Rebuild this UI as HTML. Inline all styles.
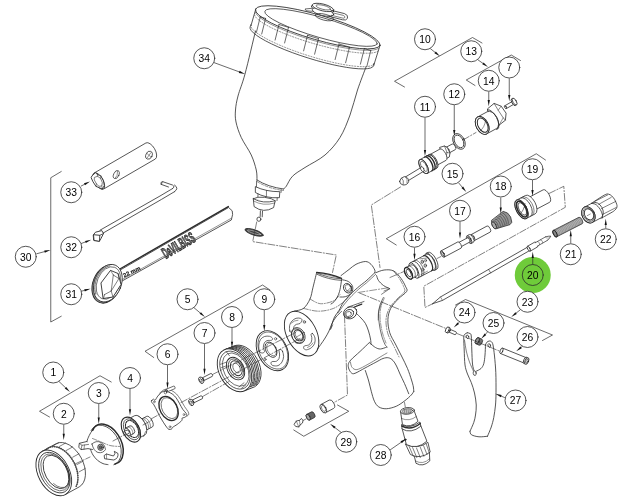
<!DOCTYPE html>
<html><head><meta charset="utf-8"><style>
html,body{margin:0;padding:0;background:#fff;}
svg{display:block}
svg text{-webkit-font-smoothing:antialiased}
.t{font-family:"Liberation Sans",sans-serif;font-size:10.3px;fill:#000;stroke:none}
</style></head><body>
<svg style="will-change:transform" width="640" height="504" viewBox="0 0 640 504" fill="none" stroke="#2b2b2b" stroke-linecap="round" stroke-linejoin="round">
<rect x="0" y="0" width="640" height="504" fill="#fff" stroke="none"/>
<path d="M255.5 31 C253.75 38.17 247.92 63.17 245 74 C242.08 84.83 239.58 90 238 96 C236.42 102 235.83 105.67 235.5 110 C235.17 114.33 235.04 117.42 236 122 C236.96 126.58 238.71 132 241.25 137.5 C243.79 143 248.75 149.58 251.25 155 C253.75 160.42 255.29 165.83 256.25 170 C257.21 174.17 256.88 178.33 257 180" stroke-width="0.8" fill="none" />
<path d="M366 67 C364.58 70.83 360.17 82 357.5 90 C354.83 98 352.92 107.08 350 115 C347.08 122.92 344.17 130.83 340 137.5 C335.83 144.17 330.83 150 325 155 C319.17 160 310.42 163.96 305 167.5 C299.58 171.04 295.62 173.12 292.5 176.25 C289.38 179.38 287.75 184.12 286.25 186.25 C284.75 188.38 283.96 188.54 283.5 189" stroke-width="0.8" fill="none" />
<path d="M257 180 Q268 187 283.5 189" stroke-width="0.8" fill="none" />
<path d="M257 181.5 Q268 188.5 283.5 190.5" stroke-width="0.5" fill="none" stroke-dasharray="3 1.5"/>
<path d="M256.6 181 L256.4 188 M281.3 189.6 L281 192.5" stroke-width="0.7" fill="none" />
<path d="M255.7 186.8 Q266 191.7 279.8 191.7 L279.4 197.7 Q266 198.6 255.7 192.7 Z" stroke-width="0.8" fill="#fff" />
<line x1="266.5" y1="190.4" x2="266.4" y2="196.6" stroke-width="0.6" />
<path d="M258 194.2 L257.8 199 M277.2 198 L277 200.6" stroke-width="0.7" fill="none" />
<path d="M253.3 198.7 L254.1 206.6 Q263.5 213.6 273.6 207.6 L275.2 200.7 Q263 204.2 253.3 198.7 Z" stroke-width="0.8" fill="#fff" />
<path d="M253.3 198.7 Q257 196.4 264.5 197.3 Q272.5 198.3 275.2 200.7" stroke-width="0.8" fill="#fff" />
<path d="M253.6 201 Q263 206.5 274.8 203" stroke-width="0.5" fill="none" />
<line x1="260.4" y1="210.8" x2="260.2" y2="216.5" stroke-width="0.8" />
<line x1="262.5" y1="211.2" x2="262.2" y2="216.8" stroke-width="0.8" />
<ellipse cx="258.9" cy="219.2" rx="2" ry="2.1" transform="rotate(0 258.9 219.2)" stroke-width="0.8" fill="none" />
<ellipse cx="254.1" cy="232.4" rx="9.6" ry="2.7" transform="rotate(18 254.1 232.4)" stroke-width="0.8" fill="#444" />
<ellipse cx="254.1" cy="232.4" rx="7" ry="1.2" transform="rotate(18 254.1 232.4)" stroke-width="0.5" fill="none" stroke="#ddd"/>
<ellipse cx="317.8" cy="27.4" rx="64.8" ry="12.4" transform="rotate(16.2 317.8 27.4)" stroke-width="0.8" fill="none" />
<path d="M373.69 63.87 L373.73 65.58 L372.72 66.96 L370.67 67.98 L367.61 68.63 L363.6 68.9 L358.7 68.78 L353 68.27 L346.6 67.38 L339.61 66.14 L332.14 64.55 L324.32 62.64 L316.29 60.46 L308.19 58.03 L300.15 55.4 L292.31 52.61 L284.81 49.72 L277.77 46.76 L271.32 43.79 L265.55 40.86 L260.59 38.03 L256.5 35.33 L253.35 32.83 L251.21 30.54 L250.11 28.53 L250.07 26.82 L251.08 25.44" stroke-width="0.8" fill="none" />
<path d="M374.33 63.38 L373.32 64.76 L371.27 65.78 L368.21 66.43 L364.2 66.7 L359.3 66.58 L353.6 66.07 L347.2 65.18 L340.21 63.94 L332.74 62.35 L324.92 60.44 L316.89 58.26 L308.79 55.83 L300.75 53.2 L292.91 50.41 L285.41 47.52 L278.37 44.56 L271.92 41.59 L266.15 38.66 L261.19 35.83 L257.1 33.13 L253.95 30.63 L251.81 28.34 L250.71 26.33 L250.67 24.62" stroke-width="0.5" fill="none" stroke-dasharray="1.2 1.6"/>
<line x1="255.91" y1="8.61" x2="251.02" y2="25.49" stroke-width="0.8" />
<line x1="380.12" y1="44.99" x2="373.83" y2="65.09" stroke-width="0.8" />
<ellipse cx="321" cy="27.6" rx="58.5" ry="10" transform="rotate(16.2 321 27.6)" stroke-width="0.7" fill="none" />
<path d="M378.74 48.18 L376.71 49.24 L373.67 49.96 L369.66 50.31 L364.76 50.29 L359.05 49.9 L352.64 49.15 L345.62 48.05 L338.12 46.62 L330.26 44.88 L322.19 42.87 L314.04 40.61 L305.95 38.15 L298.05 35.52 L290.49 32.78 L283.39 29.97 L276.87 27.14 L271.05 24.34 L266.03 21.61 L261.88 19 L258.69 16.55 L256.5 14.32 L255.35 12.33" stroke-width="0.5" fill="none" />
<path d="M378.04 51.08 L376.01 52.14 L372.97 52.86 L368.96 53.21 L364.06 53.19 L358.35 52.8 L351.94 52.05 L344.92 50.95 L337.42 49.52 L329.56 47.78 L321.49 45.77 L313.34 43.51 L305.25 41.05 L297.35 38.42 L289.79 35.68 L282.69 32.87 L276.17 30.04 L270.35 27.24 L265.33 24.51 L261.18 21.9 L257.99 19.45 L255.8 17.22 L254.65 15.23" stroke-width="0.5" fill="none" stroke-dasharray="1.2 1.6"/>
<path d="M260.3 16.8 L256.4 32.4" stroke-width="0.7" fill="none" />
<path d="M265.6 18.39 L261.7 33.99" stroke-width="0.7" fill="none" />
<path d="M260.3 16.8 L265.6 18.39" stroke-width="0.7" fill="none" />
<path d="M279 24.5 L275.1 40.1" stroke-width="0.7" fill="none" />
<path d="M288.5 27.35 L284.6 42.95" stroke-width="0.7" fill="none" />
<path d="M279 24.5 L288.5 27.35" stroke-width="0.7" fill="none" />
<path d="M307.5 35.3 L303.6 50.9" stroke-width="0.7" fill="none" />
<path d="M318.5 38.6 L314.6 54.2" stroke-width="0.7" fill="none" />
<path d="M307.5 35.3 L318.5 38.6" stroke-width="0.7" fill="none" />
<path d="M339 44 L335.1 59.6" stroke-width="0.7" fill="none" />
<path d="M349.5 47.15 L345.6 62.75" stroke-width="0.7" fill="none" />
<path d="M339 44 L349.5 47.15" stroke-width="0.7" fill="none" />
<path d="M364.3 48.6 L360.4 64.2" stroke-width="0.7" fill="none" />
<path d="M370.8 50.55 L366.9 66.15" stroke-width="0.7" fill="none" />
<path d="M364.3 48.6 L370.8 50.55" stroke-width="0.7" fill="none" />
<ellipse cx="322.5" cy="8.7" rx="11.5" ry="3.6" transform="rotate(14 322.5 8.7)" stroke-width="0.8" fill="none" />
<ellipse cx="323" cy="12" rx="11" ry="3.6" transform="rotate(14 323 12)" stroke-width="0.8" fill="#fff" />
<ellipse cx="323" cy="7.5" rx="11" ry="3.4" transform="rotate(14 323 7.5)" stroke-width="0.8" fill="#fff" />
<ellipse cx="323.3" cy="7.4" rx="7.5" ry="2" transform="rotate(14 323.3 7.4)" stroke-width="0.6" fill="none" />
<path d="M331 10.3 L344.5 13.6 Q348.5 15 347.5 18.3 Q346.3 20.8 342.5 19.8 L329 16.3" stroke-width="0.8" fill="none" />
<path d="M333 12.9 L343.3 15.4 Q345.3 16.2 344.8 17.5 Q344 18.6 342.3 18 L331.5 15.3" stroke-width="0.6" fill="none" />
<path d="M312 8.3 L305 9 L306.3 10.8 L312.5 11.3" stroke-width="0.7" fill="none" />
<ellipse cx="324.5" cy="17.2" rx="9.5" ry="3" transform="rotate(14 324.5 17.2)" stroke-width="0.7" fill="none" />
<path d="M61.25 171.5 L50.75 177.75 L50.75 322 L61.25 316.25" stroke-width="0.7" fill="none" />
<path d="M103.97 188.84 L155.27 159.04 A4.65 9.3 -30.15 0 0 145.93 142.96 L94.63 172.76" stroke-width="0.8" fill="#fff" />
<ellipse cx="98.8" cy="181" rx="4.2" ry="9.3" transform="rotate(-30 98.8 181)" stroke-width="0.8" fill="#fff" />
<path d="M92.3 175.5 L95.5 172.7 L97.3 174.5 L100.8 175.8 L103.5 181 L104.3 185.6 L102.3 189 L99 187.6 L96 186.4 L93 181.8 L91.3 178 Z" stroke-width="0.9" fill="#fff" />
<path d="M94.7 177.3 L97.5 176.3 L100.5 178.3 L102.3 182.5 L101.8 186 L99 186.3 L96.5 184 L94.5 180.3 Z" stroke-width="0.6" fill="none" />
<line x1="97.3" y1="174.5" x2="97.5" y2="176.3" stroke-width="0.5" />
<line x1="100.8" y1="175.8" x2="100.5" y2="178.3" stroke-width="0.5" />
<line x1="102.3" y1="189" x2="101.8" y2="186" stroke-width="0.5" />
<line x1="96" y1="186.4" x2="96.5" y2="184" stroke-width="0.5" />
<ellipse cx="116.3" cy="174.6" rx="2.6" ry="4.3" transform="rotate(25 116.3 174.6)" stroke-width="0.7" fill="none" />
<path d="M115.3 178 Q117.8 176.3 117.6 171.5" stroke-width="0.5" fill="none" />
<ellipse cx="149" cy="155.2" rx="3.1" ry="4.2" transform="rotate(25 149 155.2)" stroke-width="0.7" fill="none" />
<line x1="146.8" y1="153.2" x2="151" y2="157.2" stroke-width="0.5" />
<line x1="147.2" y1="157.8" x2="150.8" y2="152.8" stroke-width="0.5" />
<path d="M100 230.2 L160 196 L172.5 188.6" stroke-width="0.8" fill="none" />
<path d="M101.5 234 L161.5 199.4 L174.5 191.7" stroke-width="0.8" fill="none" />
<path d="M172.5 188.6 Q175.5 186.8 172.5 185 L162.5 181.6 Q160.3 182 161 184.3 L168.5 187 " stroke-width="0.8" fill="none" />
<path d="M174.5 191.7 Q179.5 188.3 174.5 185" stroke-width="0.8" fill="none" />
<line x1="161.2" y1="184.4" x2="162.7" y2="181.7" stroke-width="0.6" />
<path d="M93.5 234.7 L95.5 232.2 L101.8 230.6 L103.5 233.5 L101 238.5 L99.5 241 L94 240.2 Z" stroke-width="0.9" fill="#fff" />
<path d="M94 240.2 L93.5 234.7 L99.8 235.3 L99.5 241 Z" stroke-width="0.9" fill="#fff" />
<line x1="99.8" y1="235.3" x2="103.5" y2="233.5" stroke-width="0.8" />
<path d="M119 270.7 L228.6 207.5 L232.2 210.8 L232.6 214.5 L231.3 220 L120.5 281.9 Z" stroke-width="0.8" fill="#fff" />
<line x1="119" y1="269.5" x2="228.3" y2="206.6" stroke-width="1.4" />
<line x1="121.5" y1="279.9" x2="231" y2="218.4" stroke-width="0.5" />
<g transform="translate(178.3,245.3) rotate(-30.3)"><text x="0" y="5.4" text-anchor="middle" textLength="35.5" lengthAdjust="spacingAndGlyphs" style="font-family:'Liberation Sans',sans-serif;font-size:15.5px;font-weight:bold;fill:#777;stroke:#222;stroke-width:0.85;">DeVILBISS</text></g>
<ellipse cx="106.7" cy="284" rx="13.8" ry="19.9" transform="rotate(22 106.7 284)" stroke-width="0.9" fill="#8a8a8a" />
<ellipse cx="107.9" cy="283.2" rx="13.4" ry="19.5" transform="rotate(22 107.9 283.2)" stroke-width="0.8" fill="#fff" />
<ellipse cx="108.4" cy="283" rx="11.3" ry="16.9" transform="rotate(22 108.4 283)" stroke-width="0.6" fill="none" />
<path d="M95.88 294.03 L95.42 292.61 L95.09 291.1 L94.88 289.51 L94.81 287.85 L94.88 286.15 L95.07 284.41 L95.4 282.66 L95.85 280.92 L96.42 279.2 L97.11 277.52 L97.91 275.89 L98.82 274.33 L99.81 272.87 L100.89 271.5 L102.04 270.25 L103.25 269.13 L104.51 268.15 L105.81 267.32 L107.12 266.64 L108.45 266.13 L109.78 265.79" stroke-width="1.2" fill="none" stroke="#777" stroke-dasharray="0.8 0.9"/>
<path d="M101.2 282.7 L110.5 270.4 L118.1 273.5 L121 284.5 L113 297 L103.5 298.5 Z" stroke-width="0.9" fill="#fff" />
<path d="M113.3 275 L118.9 278.6 L111.2 291 L104.5 294.6" stroke-width="0.6" fill="none" />
<line x1="113.3" y1="275" x2="111.2" y2="291" stroke-width="0.6" />
<line x1="113" y1="297" x2="111.2" y2="291" stroke-width="0.6" />
<line x1="103.5" y1="298.5" x2="104.5" y2="294.6" stroke-width="0.6" />
<line x1="118.1" y1="273.5" x2="118.9" y2="278.6" stroke-width="0.5" />
<line x1="110.5" y1="270.4" x2="113.3" y2="275" stroke-width="0.5" />
<g transform="translate(131.8,271.7) rotate(-25)"><text x="0" y="2" text-anchor="middle" style="font-family:'Liberation Sans',sans-serif;font-size:5.8px;font-weight:bold;fill:#111;stroke:#111;stroke-width:0.15">22 mm</text></g>
<path d="M294.5 311 C296 310.57 300.92 310.4 303.5 308.4 C306.08 306.4 308.43 302.44 310 299 C311.57 295.56 311.8 292.12 312.9 287.75 C314 283.38 315.98 275.25 316.6 272.75" stroke-width="0.8" fill="none" />
<path d="M316.6 272.4 Q330 273.6 341.6 278.3" stroke-width="1.3" fill="none" />
<path d="M316.6 272.9 Q328 278 341.6 278.9" stroke-width="0.7" fill="none" />
<path d="M317 274.3 Q328 279.6 341.4 280.4" stroke-width="0.7" fill="none" />
<path d="M319.5 273.3 Q330 275.2 339.5 278" stroke-width="0.5" fill="none" />
<path d="M341.5 280.3 C341.25 281.85 340.6 287.02 340 289.6 C339.4 292.18 338.83 293.83 337.9 295.8 C336.97 297.77 335.55 300.03 334.4 301.4 C333.25 302.77 331.57 303.57 331 304" stroke-width="0.8" fill="none" />
<path d="M341.5 279.6 C342.63 279.92 346.45 280.35 348.3 281.5 C350.15 282.65 352.07 284.58 352.6 286.5 C353.13 288.42 352.67 291.32 351.5 293 C350.33 294.68 347.52 295.93 345.6 296.6 C343.68 297.27 340.93 296.93 340 297" stroke-width="0.8" fill="none" />
<ellipse cx="347.6" cy="288.2" rx="3.9" ry="5" transform="rotate(-28 347.6 288.2)" stroke-width="0.8" fill="none" />
<ellipse cx="348.1" cy="287.9" rx="2.7" ry="3.6" transform="rotate(-28 348.1 287.9)" stroke-width="0.6" fill="none" />
<path d="M345.6 291.5 Q348 291.5 349.8 288.5" stroke-width="0.5" fill="none" />
<path d="M310 299 C311.73 299.78 316.48 303.38 320.4 303.7 C324.32 304.02 330.23 302.43 333.5 300.9 C336.77 299.37 338.92 295.57 340 294.5" stroke-width="0.55" fill="none" stroke-dasharray="5 1.5 1 1.5"/>
<path d="M303.5 308.4 C306 308.87 313.5 311.2 318.5 311.2 C323.5 311.2 329.12 310.12 333.5 308.4 C337.88 306.68 342 303.13 344.75 300.9 C347.5 298.67 349.12 295.98 350 295" stroke-width="0.55" fill="none" stroke-dasharray="5 1.5 1 1.5"/>
<path d="M341 275.6 C342.33 274.58 346.5 271.38 349 269.5 C351.5 267.62 353.27 265.63 356 264.3 C358.73 262.97 362.9 261.5 365.4 261.5 C367.9 261.5 369.44 262.88 371 264.3 C372.56 265.72 374.12 268.59 374.75 270 C375.38 271.41 374.75 272.29 374.75 272.75" stroke-width="0.8" fill="none" />
<path d="M374.75 272.75 C373.29 274.12 368.5 278.81 366 281 C363.5 283.19 362.35 283.68 359.75 285.9 C357.15 288.12 353.19 291.45 350.4 294.3 C347.61 297.15 344.88 300.34 343 303 C341.12 305.66 340.52 307.92 339.1 310.25 C337.68 312.58 335.68 314.71 334.5 317 C333.32 319.29 332.63 322 332 324 C331.37 326 330.92 328.17 330.7 329" stroke-width="0.8" fill="none" />
<path d="M375.7 274.3 C374.17 275.72 369.03 280.58 366.5 282.8 C363.97 285.02 362.92 285.48 360.5 287.6 C358.08 289.72 354.67 292.77 352 295.5 C349.33 298.23 346.83 301.08 344.5 304 C342.17 306.92 339.08 311.5 338 313" stroke-width="0.6" fill="none" />
<path d="M375.7 272.75 C377.1 272.29 381.13 270.31 384.1 270 C387.07 269.69 390.68 269.5 393.5 270.9 C396.32 272.3 398.97 275.75 401 278.4 C403.03 281.05 404.77 284.62 405.7 286.8 C406.63 288.98 407.85 289.47 406.6 291.5 C405.35 293.53 400.85 296.18 398.2 299 C395.55 301.82 392.42 304.97 390.7 308.4 C388.98 311.83 388.06 315.54 387.9 319.6 C387.74 323.66 388.5 328.68 389.75 332.75 C391 336.82 393.44 340.12 395.4 344 C397.36 347.88 399.48 351.92 401.5 356 C403.52 360.08 405.83 364.5 407.5 368.5 C409.17 372.5 410.52 376.92 411.5 380 C412.48 383.08 413.02 385.08 413.4 387 C413.77 388.92 413.69 390.75 413.75 391.5" stroke-width="0.8" fill="none" />
<path d="M393.5 270.9 C394.58 272.33 398.25 276.73 400 279.5 C401.75 282.27 403.28 285.42 404 287.5 C404.72 289.58 405.55 290 404.3 292 C403.05 294 399.05 296.67 396.5 299.5 C393.95 302.33 390.75 305.58 389 309 C387.25 312.42 386.2 315.92 386 320 C385.8 324.08 386.58 329.33 387.8 333.5 C389.02 337.67 391.43 341.08 393.3 345 C395.17 348.92 398.05 355 399 357" stroke-width="0.55" fill="none" stroke-dasharray="6 1.5 1 1.5"/>
<path d="M376.6 275.6 C376.92 276.42 377.35 278.85 378.5 280.5 C379.65 282.15 381.62 284.13 383.5 285.5 C385.38 286.87 388.71 288.17 389.75 288.7" stroke-width="0.8" fill="none" />
<path d="M384 291 L389.75 288.7 L381.5 294.3" stroke-width="0.6" fill="none" />
<line x1="358" y1="292.5" x2="389.5" y2="287.6" stroke-width="0.5" stroke-dasharray="7 1.8 1.2 1.8"/>
<path d="M383.4 297.5 C382.83 298.75 380.82 302.25 380 305 C379.18 307.75 378.62 310.83 378.5 314 C378.38 317.17 378.8 320.5 379.3 324 C379.8 327.5 380.55 331.58 381.5 335 C382.45 338.42 384.03 342.5 385 344.5 C385.97 346.5 386.92 346.58 387.3 347" stroke-width="0.7" fill="none" />
<path d="M384.4 298 C383.88 299.25 382.03 302.83 381.3 305.5 C380.57 308.17 380.1 310.92 380 314 C379.9 317.08 380.23 320.67 380.7 324 C381.17 327.33 381.92 330.83 382.8 334 C383.68 337.17 385.47 341.5 386 343" stroke-width="0.5" fill="none" stroke-dasharray="5 1.3 1 1.3"/>
<path d="M382.2 302 C381.62 303.5 379.37 308 378.7 311 C378.03 314 378.28 318.5 378.2 320" stroke-width="0.5" fill="none" />
<ellipse cx="301.6" cy="333.6" rx="14.8" ry="24" transform="rotate(-28 301.6 333.6)" stroke-width="0.9" fill="#fff" />
<path d="M289.8 331 C289.52 329.83 289.23 327.17 289.6 325.5 C289.97 323.83 290.93 322.2 292 321 C293.07 319.8 294.62 318.75 296 318.3 C297.38 317.85 299.3 318.02 300.3 318.3 C301.3 318.58 302.05 319.13 302 320 C301.95 320.87 300.92 322.78 300 323.5 C299.08 324.22 297.5 323.8 296.5 324.3 C295.5 324.8 294.58 325.3 294 326.5 C293.42 327.7 293.45 330.5 293 331.5 C292.55 332.5 291.83 332.58 291.3 332.5 C290.77 332.42 290.08 332.17 289.8 331 Z" stroke-width="0.7" fill="none" />
<path d="M312.6 333.5 C313.27 334.08 314.67 336.33 315 338 C315.33 339.67 315.22 341.87 314.6 343.5 C313.98 345.13 312.65 346.75 311.3 347.8 C309.95 348.85 307.75 349.68 306.5 349.8 C305.25 349.92 304.17 349.13 303.8 348.5 C303.43 347.87 303.52 346.58 304.3 346 C305.08 345.42 307.33 345.67 308.5 345 C309.67 344.33 310.75 343.25 311.3 342 C311.85 340.75 311.85 338.75 311.8 337.5 C311.75 336.25 310.87 335.17 311 334.5 C311.13 333.83 311.93 332.92 312.6 333.5 Z" stroke-width="0.7" fill="none" />
<path d="M291.5 323 Q294 320.3 298 320.2" stroke-width="0.5" fill="none" />
<path d="M313 343 Q311 346.3 307.5 347.5" stroke-width="0.5" fill="none" />
<ellipse cx="304.4" cy="321.9" rx="1.2" ry="1.3" transform="rotate(0 304.4 321.9)" stroke-width="0.6" fill="none" />
<line x1="303.6" y1="321.3" x2="305.2" y2="322.6" stroke-width="0.4" />
<ellipse cx="298.3" cy="335.5" rx="6.4" ry="8.3" transform="rotate(-28 298.3 335.5)" stroke-width="0.8" fill="#fff" />
<ellipse cx="297.6" cy="335.9" rx="5.6" ry="7.5" transform="rotate(-28 297.6 335.9)" stroke-width="0.6" fill="none" />
<ellipse cx="298.5" cy="335.3" rx="4.3" ry="5.9" transform="rotate(-28 298.5 335.3)" stroke-width="0.9" fill="none" />
<ellipse cx="299" cy="335" rx="3.4" ry="4.8" transform="rotate(-28 299 335)" stroke-width="0.5" fill="none" />
<line x1="296.3" y1="337" x2="300.8" y2="334.6" stroke-width="0.5" />
<path d="M294.3 341.5 Q295.6 344 297.6 343.3" stroke-width="0.6" fill="none" />
<path d="M317.5 349 C318.67 347.33 322.58 342 324.5 339 C326.42 336 327.75 333.58 329 331 C330.25 328.42 330.83 325.83 332 323.5 C333.17 321.17 334.42 319 336 317 C337.58 315 340.58 312.42 341.5 311.5" stroke-width="0.8" fill="none" />
<path d="M330.2 329.5 C330.63 328.75 332.37 325.75 332.8 325" stroke-width="0.6" fill="none" />
<ellipse cx="350.2" cy="312.8" rx="6.9" ry="5.8" transform="rotate(-28 350.2 312.8)" stroke-width="0.8" fill="#fff" />
<ellipse cx="349.2" cy="313.5" rx="4.6" ry="3.9" transform="rotate(-28 349.2 313.5)" stroke-width="0.8" fill="none" />
<ellipse cx="348.6" cy="314" rx="2.8" ry="2.4" transform="rotate(-28 348.6 314)" stroke-width="0.6" fill="none" />
<line x1="347.5" y1="307.3" x2="364" y2="301.5" stroke-width="0.7" />
<line x1="354.5" y1="307" x2="362" y2="304" stroke-width="1.3" stroke-dasharray="1.2 1"/>
<path d="M356.5 313.5 C357.25 314.25 359.52 316.35 361 318 C362.48 319.65 364.15 321.23 365.4 323.4 C366.65 325.57 367.65 328.4 368.5 331 C369.35 333.6 370.08 336.83 370.5 339 C370.92 341.17 370.92 343.17 371 344" stroke-width="0.8" fill="none" />
<path d="M371 344 C371.75 344.58 373.95 346.67 375.5 347.5 C377.05 348.33 378.47 349.05 380.3 349 C382.13 348.95 385.47 347.5 386.5 347.2" stroke-width="0.8" fill="none" />
<path d="M369.4 342.5 C367.83 344 363.1 348.58 360 351.5 C356.9 354.42 352.75 357.83 350.8 360 C348.85 362.17 348.62 363 348.3 364.5 C347.98 366 348.37 367.58 348.9 369 C349.43 370.42 350.48 372.28 351.5 373 C352.52 373.72 352.75 374.13 355 373.3 C357.25 372.47 361.52 369.85 365 368 C368.48 366.15 372.9 363.78 375.9 362.2 C378.9 360.62 380.9 359.23 383 358.5 C385.1 357.77 386.83 357.47 388.5 357.8 C390.17 358.13 391.67 359.13 393 360.5 C394.33 361.87 395.33 363.75 396.5 366 C397.67 368.25 398.67 371.08 400 374 C401.33 376.92 403.04 380.21 404.5 383.5 C405.96 386.79 408.04 392.04 408.75 393.75" stroke-width="0.8" fill="none" />
<path d="M350.5 362 C350.67 362.75 350.75 365.25 351.5 366.5 C352.25 367.75 353.58 369.17 355 369.5 C356.42 369.83 357.17 369.75 360 368.5 C362.83 367.25 368.5 364 372 362 C375.5 360 378.5 358 381 356.5 C383.5 355 386 353.58 387 353" stroke-width="0.55" fill="none" />
<path d="M365.3 370.5 C365.87 372.25 367.71 377.54 368.7 381 C369.69 384.46 370.3 387.88 371.25 391.25 C372.2 394.62 373.15 398.64 374.4 401.25 C375.65 403.86 376.77 405.65 378.75 406.9 C380.73 408.15 383.33 408.86 386.25 408.75 C389.17 408.64 393.12 407.61 396.25 406.25 C399.38 404.89 402.5 402.48 405 400.6 C407.5 398.73 409.79 396.52 411.25 395 C412.71 393.48 413.33 392.08 413.75 391.5" stroke-width="0.8" fill="none" />
<line x1="371.5" y1="344.5" x2="369.5" y2="342.8" stroke-width="0.6" />
<path d="M467.3 332.8 C466.83 333.08 465.09 333.63 464.5 334.5 C463.91 335.37 463.8 335.42 463.75 338 C463.7 340.58 463.99 345.5 464.2 350 C464.41 354.5 464.45 361 465 365 C465.55 369 466.46 371.08 467.5 374 C468.54 376.92 470.08 379.33 471.25 382.5 C472.42 385.67 473.67 389.25 474.5 393 C475.33 396.75 476.08 401.33 476.25 405 C476.42 408.67 475.92 412.08 475.5 415 C475.08 417.92 474.67 419.79 473.75 422.5 C472.83 425.21 470.62 429.79 470 431.25" stroke-width="0.8" fill="none" />
<path d="M470 431.25 C470.25 431.84 470 433.88 471.5 434.8 C473 435.73 476.33 436.56 479 436.8 C481.67 437.04 486.08 436.34 487.5 436.25" stroke-width="0.8" fill="none" />
<path d="M487.5 436.25 C488.12 434.71 490.21 430.12 491.25 427 C492.29 423.88 493.04 421.17 493.75 417.5 C494.46 413.83 495.12 409.17 495.5 405 C495.88 400.83 495.95 397.92 496 392.5 C496.05 387.08 496.05 378.58 495.8 372.5 C495.55 366.42 494.97 360.58 494.5 356 C494.03 351.42 493.5 347.37 493 345 C492.5 342.63 492.12 342.47 491.5 341.8 C490.88 341.13 490.08 340.92 489.3 341 C488.52 341.08 487.43 341.63 486.8 342.3 C486.17 342.97 485.72 344.55 485.5 345" stroke-width="0.8" fill="none" />
<path d="M467.3 332.8 C467.75 332.92 469.34 332.97 470 333.5 C470.66 334.03 470.95 333.25 471.25 336 C471.55 338.75 471.59 345.33 471.8 350 C472.01 354.67 472.13 360.58 472.5 364 C472.87 367.42 473.75 369.42 474 370.5" stroke-width="0.8" fill="none" />
<path d="M485.5 345 C485.42 346.67 485.29 351.88 485 355 C484.71 358.12 484.42 361.5 483.75 363.75 C483.08 366 482.29 367.24 481 368.5 C479.71 369.76 476.83 370.83 476 371.3" stroke-width="0.8" fill="none" />
<ellipse cx="474.7" cy="373.2" rx="1.5" ry="2.3" transform="rotate(-10 474.7 373.2)" stroke-width="0.7" fill="none" />
<path d="M464.5 340 C464.83 342 465.67 348.33 466.5 352 C467.33 355.67 468.37 358.87 469.5 362 C470.63 365.13 472.67 369.33 473.3 370.8" stroke-width="0.6" fill="none" />
<ellipse cx="467.5" cy="336.8" rx="1.2" ry="1.9" transform="rotate(-20 467.5 336.8)" stroke-width="0.7" fill="none" />
<ellipse cx="489.3" cy="345.5" rx="1.2" ry="1.9" transform="rotate(-20 489.3 345.5)" stroke-width="0.7" fill="none" />
<path d="M448.7 331.98 L454.9 334.68 A0.75 1.5 23.53 0 0 456.1 331.92 L449.9 329.22" stroke-width="0.8" fill="#fff" />
<ellipse cx="449.3" cy="330.6" rx="0.75" ry="1.5" transform="rotate(23.53 449.3 330.6)" stroke-width="0.8" fill="#fff" />
<ellipse cx="448.3" cy="330.2" rx="1.6" ry="3.1" transform="rotate(24 448.3 330.2)" stroke-width="0.8" fill="#fff" />
<ellipse cx="447.3" cy="329.8" rx="1.6" ry="3.1" transform="rotate(24 447.3 329.8)" stroke-width="0.8" fill="#fff" />
<path d="M475.9 343.69 L479.1 345.19 A1.65 3.3 25.11 0 0 481.9 339.21 L478.7 337.71" stroke-width="0.8" fill="#777" />
<ellipse cx="477.3" cy="340.7" rx="1.65" ry="3.3" transform="rotate(25.11 477.3 340.7)" stroke-width="0.8" fill="#777" />
<ellipse cx="477.3" cy="340.7" rx="1.7" ry="3.3" transform="rotate(25 477.3 340.7)" stroke-width="0.8" fill="#999" />
<path d="M500.41 353.49 L523.91 362.99 A1.3 2.9 22.01 0 0 526.09 357.61 L502.59 348.11" stroke-width="0.8" fill="#fff" />
<ellipse cx="501.5" cy="350.8" rx="1.3" ry="2.9" transform="rotate(22.01 501.5 350.8)" stroke-width="0.8" fill="#fff" />
<ellipse cx="525.5" cy="360.5" rx="1.8" ry="3.6" transform="rotate(22 525.5 360.5)" stroke-width="0.8" fill="#fff" />
<ellipse cx="526.8" cy="361" rx="1.8" ry="3.6" transform="rotate(22 526.8 361)" stroke-width="0.8" fill="#fff" />
<ellipse cx="527" cy="361.1" rx="1" ry="2.1" transform="rotate(22 527 361.1)" stroke-width="0.6" fill="none" />
<path d="M414.4 456.5 L416 463.3 Q423 467.5 429.8 460.9 L429.4 453" stroke-width="0.8" fill="#fff" />
<path d="M415.5 461 Q423 465.3 429.7 458.7" stroke-width="0.5" fill="none" />
<path d="M405.6 444.2 L410.4 454.5 Q420 459.8 430.2 452.1 L427.9 442.3 Q418 450 405.6 444.2 Z" stroke-width="0.8" fill="#fff" />
<line x1="409" y1="446.2" x2="413.3" y2="456.2" stroke-width="0.6" />
<line x1="412.6" y1="447.6" x2="416.8" y2="457.6" stroke-width="0.6" />
<line x1="416.5" y1="448" x2="420.3" y2="457.6" stroke-width="0.6" />
<line x1="420.3" y1="447.3" x2="423.8" y2="456.3" stroke-width="0.6" />
<line x1="423.6" y1="445.8" x2="427" y2="454.5" stroke-width="0.6" />
<line x1="426.3" y1="444" x2="429.3" y2="453" stroke-width="0.6" />
<path d="M402.1 428.5 L406.4 444.6 Q417 450 426.9 441.2 L420.7 425.5 Z" stroke-width="0.8" fill="#fff" />
<ellipse cx="405.3" cy="439.7" rx="0.8" ry="0.8" transform="rotate(0 405.3 439.7)" stroke-width="0.7" fill="#222" />
<path d="M401.7 425 L402.1 429 Q411 434 420.8 426.3 L419.9 422 Q411 429 401.7 425 Z" stroke-width="0.8" fill="#fff" />
<path d="M401.9 426.2 Q411 431 420.2 423.5" stroke-width="1.5" fill="none" />
<path d="M400.6 412 L402.5 424.6 Q410.5 428.3 418 421.3 L414.4 411.5 Z" stroke-width="0.8" fill="#fff" />
<ellipse cx="407.4" cy="410.9" rx="7" ry="3.3" transform="rotate(-6 407.4 410.9)" stroke-width="0.8" fill="#fff" />
<ellipse cx="407.4" cy="411" rx="5.2" ry="2.3" transform="rotate(-6 407.4 411)" stroke-width="0.5" fill="#ccc" />
<line x1="404.3" y1="409.6" x2="404.6" y2="412.3" stroke-width="0.4" />
<line x1="406.2" y1="409.6" x2="406.5" y2="412.3" stroke-width="0.4" />
<line x1="408.1" y1="409.6" x2="408.4" y2="412.3" stroke-width="0.4" />
<line x1="410" y1="409.6" x2="410.3" y2="412.3" stroke-width="0.4" />
<path d="M401.5 418.5 Q409.5 422 416.3 416.5" stroke-width="0.5" fill="none" />
<path d="M325.52 412.74 L333.72 408.34 A2.59 4.7 -28.22 0 0 329.28 400.06 L321.08 404.46" stroke-width="0.8" fill="#fff" />
<ellipse cx="323.3" cy="408.6" rx="2.59" ry="4.7" transform="rotate(-28.22 323.3 408.6)" stroke-width="0.8" fill="#fff" />
<ellipse cx="323.6" cy="408.4" rx="1.8" ry="3.2" transform="rotate(-28 323.6 408.4)" stroke-width="0.5" fill="none" />
<path d="M309.68 420.04 L314.48 417.54 A1.6 3.2 -27.51 0 0 311.52 411.86 L306.72 414.36" stroke-width="0.8" fill="#666" />
<ellipse cx="308.2" cy="417.2" rx="1.6" ry="3.2" transform="rotate(-27.51 308.2 417.2)" stroke-width="0.8" fill="#666" />
<ellipse cx="308.2" cy="417.2" rx="1.6" ry="3.2" transform="rotate(-28 308.2 417.2)" stroke-width="0.7" fill="#aaa" />
<path d="M294.3 424 L296.3 421 L299.5 420.3 L301.5 418.5 L303 420.5 L302.5 423 L300 425 L298.8 427 L296 426.5 Z" stroke-width="0.8" fill="#fff" />
<line x1="299.5" y1="420.3" x2="300" y2="425" stroke-width="0.5" />
<line x1="296.3" y1="421" x2="298.8" y2="427" stroke-width="0.5" />
<path d="M487.8 108.6 L494.1 103.4 L501.2 106.2 L506.1 113.2 L505.4 120.2 L499 125.2 L497 129.5 L490 125 Z" stroke-width="0.8" fill="#fff" />
<path d="M494.1 103.4 L498.2 110.2 L503.2 117.8 L505.4 120.2" stroke-width="0.6" fill="none" />
<line x1="498.2" y1="110.2" x2="501.2" y2="106.2" stroke-width="0.5" />
<path d="M503.2 117.8 L499 125.2" stroke-width="0.5" fill="none" />
<path d="M486.77 133.84 L496.37 128.64 A5.95 9.6 -28.44 0 0 487.23 111.76 L477.63 116.96" stroke-width="0.8" fill="#fff" />
<ellipse cx="482.2" cy="125.4" rx="5.95" ry="9.6" transform="rotate(-28.44 482.2 125.4)" stroke-width="0.8" fill="#fff" />
<path d="M497.72 129.12 A4.5 10.9 -28 0 0 487.48 109.88" stroke-width="0.9" fill="none" />
<ellipse cx="482.2" cy="125.4" rx="6" ry="9.6" transform="rotate(-28 482.2 125.4)" stroke-width="0.9" fill="#fff" />
<ellipse cx="482.7" cy="125.2" rx="4.6" ry="7.7" transform="rotate(-28 482.7 125.2)" stroke-width="1.0" fill="none" />
<path d="M479.7 131.2 Q484.7 128 485.8 119.5" stroke-width="0.5" fill="none" />
<path d="M506.3 108.59 L513.6 104.39 A0.8 1.6 -29.91 0 0 512 101.61 L504.7 105.81" stroke-width="0.8" fill="#fff" />
<ellipse cx="505.5" cy="107.2" rx="0.8" ry="1.6" transform="rotate(-29.91 505.5 107.2)" stroke-width="0.8" fill="#fff" />
<ellipse cx="513.6" cy="102.2" rx="1.7" ry="3.9" transform="rotate(-30 513.6 102.2)" stroke-width="0.8" fill="#fff" />
<ellipse cx="514.6" cy="101.6" rx="1.7" ry="3.9" transform="rotate(-30 514.6 101.6)" stroke-width="0.8" fill="#fff" />
<ellipse cx="459" cy="141.4" rx="5.6" ry="8.4" transform="rotate(-28 459 141.4)" stroke-width="0.8" fill="none" />
<ellipse cx="459" cy="141.4" rx="4.2" ry="6.8" transform="rotate(-28 459 141.4)" stroke-width="0.8" fill="none" />
<path d="M449.02 153.02 L455.32 149.62 A1.44 3.2 -28.35 0 0 452.28 143.98 L445.98 147.38" stroke-width="0.8" fill="#fff" />
<ellipse cx="447.5" cy="150.2" rx="1.44" ry="3.2" transform="rotate(-28.35 447.5 150.2)" stroke-width="0.8" fill="#fff" />
<path d="M440 147.3 L444.5 146 L447.3 147.5 L450 153 L449.3 157 L445.8 158.8 L443 158 Z" stroke-width="0.8" fill="#fff" />
<line x1="444.5" y1="146" x2="447" y2="152.5" stroke-width="0.6" />
<line x1="447" y1="152.5" x2="445.8" y2="158.8" stroke-width="0.6" />
<line x1="447" y1="152.5" x2="450" y2="153" stroke-width="0.5" />
<path d="M436.08 165.81 L446.08 160.31 A2.88 6.4 -28.81 0 0 439.92 149.09 L429.92 154.59" stroke-width="0.8" fill="#fff" />
<ellipse cx="433" cy="160.2" rx="2.88" ry="6.4" transform="rotate(-28.81 433 160.2)" stroke-width="0.8" fill="#fff" />
<path d="M427.34 173.34 L437.04 168.04 A3.51 7.8 -28.65 0 0 429.56 154.36 L419.86 159.66" stroke-width="0.8" fill="#fff" />
<ellipse cx="423.6" cy="166.5" rx="3.51" ry="7.8" transform="rotate(-28.65 423.6 166.5)" stroke-width="0.8" fill="#fff" />
<path d="M431.92 170.84 A3.5 7.8 -28 0 0 424.59 157.07" stroke-width="1.4" fill="none" />
<path d="M434.05 169.68 A3.5 7.8 -28 0 0 426.73 155.9" stroke-width="1.4" fill="none" />
<path d="M435.99 168.62 A3.5 7.8 -28 0 0 428.67 154.84" stroke-width="1.0" fill="none" />
<ellipse cx="423.6" cy="166.5" rx="3.5" ry="7.8" transform="rotate(-28 423.6 166.5)" stroke-width="0.9" fill="#fff" />
<ellipse cx="423.9" cy="166.3" rx="2.5" ry="5.6" transform="rotate(-28 423.9 166.3)" stroke-width="0.6" fill="none" />
<path d="M407.69 180.97 L423.19 171.57 A1.03 2.3 -31.23 0 0 420.81 167.63 L405.31 177.03" stroke-width="0.8" fill="#fff" />
<ellipse cx="422.3" cy="169.1" rx="1.5" ry="2.7" transform="rotate(-28 422.3 169.1)" stroke-width="0.7" fill="#fff" />
<path d="M399.6 181.3 Q400.2 177.6 404.3 176.6 Q408.7 177.3 408.7 181.3 Q407.6 185.3 403 185 Q399.6 184.2 399.6 181.3 Z" stroke-width="0.8" fill="#fff" />
<path d="M401.8 178.2 Q404.3 180.3 403.3 184.2" stroke-width="0.6" fill="none" />
<path d="M405.8 177 Q408 179.3 407 183" stroke-width="0.5" fill="none" />
<path d="M434.92 270.21 L436.82 269.21 A3.99 9.5 -27.76 0 0 427.98 252.39 L426.08 253.39" stroke-width="0.8" fill="#fff" />
<ellipse cx="430.5" cy="261.8" rx="3.99" ry="9.5" transform="rotate(-27.76 430.5 261.8)" stroke-width="0.8" fill="#fff" />
<path d="M417.96 278.02 L434.46 269.32 A3.57 8.5 -27.8 0 0 426.54 254.28 L410.04 262.98" stroke-width="0.8" fill="#fff" />
<ellipse cx="414" cy="270.5" rx="3.57" ry="8.5" transform="rotate(-27.8 414 270.5)" stroke-width="0.8" fill="#fff" />
<path d="M420.99 276.41 A3.6 8.5 -28 0 0 413.01 261.39" stroke-width="0.8" fill="none" />
<path d="M422.99 275.31 A3.6 8.5 -28 0 0 415.01 260.29" stroke-width="0.6" fill="none" />
<path d="M431.59 270.81 A3.6 8.5 -28 0 0 423.61 255.79" stroke-width="1.2" fill="none" />
<ellipse cx="422.3" cy="261.8" rx="1.3" ry="1.7" transform="rotate(0 422.3 261.8)" stroke-width="0.6" fill="#bbb" />
<ellipse cx="425.3" cy="265.6" rx="1.3" ry="1.7" transform="rotate(0 425.3 265.6)" stroke-width="0.6" fill="#bbb" />
<ellipse cx="422.8" cy="269.6" rx="1.2" ry="1.6" transform="rotate(0 422.8 269.6)" stroke-width="0.6" fill="#bbb" />
<ellipse cx="425.6" cy="260.5" rx="1" ry="1.3" transform="rotate(0 425.6 260.5)" stroke-width="0.5" fill="#ccc" />
<line x1="420" y1="258.8" x2="427" y2="258" stroke-width="0.5" />
<line x1="421" y1="274.5" x2="427.5" y2="271.2" stroke-width="0.5" />
<path d="M411.44 278.87 L416.74 276.07 A3.15 6.3 -27.85 0 0 410.86 264.93 L405.56 267.73" stroke-width="0.8" fill="#fff" />
<ellipse cx="408.5" cy="273.3" rx="3.15" ry="6.3" transform="rotate(-27.85 408.5 273.3)" stroke-width="0.8" fill="#fff" />
<path d="M414.46 277.26 A3.1 6.3 -28 0 0 408.54 266.14" stroke-width="0.6" fill="none" />
<ellipse cx="408.5" cy="273.3" rx="3.1" ry="6.3" transform="rotate(-28 408.5 273.3)" stroke-width="1.4" fill="#fff" />
<ellipse cx="408.8" cy="273.1" rx="1.9" ry="4.2" transform="rotate(-28 408.8 273.1)" stroke-width="0.7" fill="none" />
<path d="M474.42 240.59 L490.32 231.99 A1.43 3.4 -28.41 0 0 487.08 226.01 L471.18 234.61" stroke-width="0.8" fill="#fff" />
<ellipse cx="472.8" cy="237.6" rx="1.43" ry="3.4" transform="rotate(-28.41 472.8 237.6)" stroke-width="0.8" fill="#fff" />
<path d="M471.31 243.46 L473.51 242.26 A1.85 4.4 -28.61 0 0 469.29 234.54 L467.09 235.74" stroke-width="0.8" fill="#fff" />
<ellipse cx="469.2" cy="239.6" rx="1.85" ry="4.4" transform="rotate(-28.61 469.2 239.6)" stroke-width="0.8" fill="#fff" />
<ellipse cx="469.2" cy="239.6" rx="1.2" ry="2.9" transform="rotate(-28 469.2 239.6)" stroke-width="0.6" fill="none" />
<path d="M460.63 246.92 L469.63 242.12 A1.01 2.4 -28.07 0 0 467.37 237.88 L458.37 242.68" stroke-width="0.8" fill="#fff" />
<path d="M444.25 257.09 L461.15 248.09 A1.47 3.5 -28.04 0 0 457.85 241.91 L440.95 250.91" stroke-width="0.8" fill="#fff" />
<ellipse cx="442.6" cy="254" rx="1.47" ry="3.5" transform="rotate(-28.04 442.6 254)" stroke-width="0.8" fill="#fff" />
<ellipse cx="442.9" cy="253.9" rx="0.9" ry="2" transform="rotate(-28 442.9 253.9)" stroke-width="0.6" fill="none" />
<path d="M491.5 220.8 L492.3 225.5 L495.7 228.9 L510 224.6 L511.8 222.3 L510.6 216.9 L507.5 213 L503.5 211.5 Z" stroke-width="0.8" fill="#949494" />
<path d="M497.68 228.13 A1.9 4.15 -28 0 0 493.78 220.8" stroke="#3a3a3a" stroke-width="0.6" fill="none" />
<path d="M499.77 227.27 A1.9 4.57 -28 0 0 495.47 219.2" stroke="#3a3a3a" stroke-width="0.6" fill="none" />
<path d="M501.85 226.42 A1.9 4.99 -28 0 0 497.16 217.61" stroke="#3a3a3a" stroke-width="0.6" fill="none" />
<path d="M503.93 225.56 A1.9 5.41 -28 0 0 498.85 216.01" stroke="#3a3a3a" stroke-width="0.6" fill="none" />
<path d="M506.02 224.71 A1.9 5.83 -28 0 0 500.54 214.41" stroke="#3a3a3a" stroke-width="0.6" fill="none" />
<path d="M508.1 223.85 A1.9 6.25 -28 0 0 502.23 212.82" stroke="#3a3a3a" stroke-width="0.6" fill="none" />
<ellipse cx="494.1" cy="225.3" rx="1.8" ry="3.9" transform="rotate(-28 494.1 225.3)" stroke-width="0.8" fill="#aaa" />
<path d="M532.78 211.19 L549.78 202.19 A2.94 7 -27.9 0 0 543.22 189.81 L526.22 198.81" stroke-width="0.8" fill="#fff" />
<ellipse cx="529.5" cy="205" rx="2.94" ry="7" transform="rotate(-27.9 529.5 205)" stroke-width="0.8" fill="#fff" />
<path d="M526.32 218.52 L535.12 213.92 A5.2 10.4 -27.6 0 0 525.48 195.48 L516.68 200.08" stroke-width="0.8" fill="#fff" />
<ellipse cx="521.5" cy="209.3" rx="5.2" ry="10.4" transform="rotate(-27.6 521.5 209.3)" stroke-width="0.8" fill="#fff" />
<path d="M530.68 216.28 A5.2 10.4 -28 0 0 520.92 197.92" stroke-width="0.8" fill="none" />
<path d="M532.48 215.28 A5.2 10.4 -28 0 0 522.72 196.92" stroke-width="0.6" fill="none" />
<ellipse cx="521.5" cy="209.3" rx="5.2" ry="10.4" transform="rotate(-28 521.5 209.3)" stroke-width="1.0" fill="#fff" />
<ellipse cx="521.9" cy="209.1" rx="4.2" ry="8.6" transform="rotate(-28 521.9 209.1)" stroke-width="1.6" fill="none" />
<ellipse cx="522.3" cy="208.9" rx="3.2" ry="6.8" transform="rotate(-28 522.3 208.9)" stroke-width="0.7" fill="none" />
<path d="M519.5 214.5 Q524 211 525 203.5" stroke-width="0.6" fill="none" />
<path d="M556.64 236.8 L582.24 223.7 A1.62 3.6 -27.1 0 0 578.96 217.3 L553.36 230.4" stroke-width="0.8" fill="#b4b4b4" />
<ellipse cx="555" cy="233.6" rx="1.62" ry="3.6" transform="rotate(-27.1 555 233.6)" stroke-width="0.8" fill="#b4b4b4" />
<path d="M556.61 236.82 A1.6 3.6 -26.6 0 0 553.39 230.38" stroke="#666" stroke-width="0.4" fill="none" />
<path d="M558.03 236.09 A1.6 3.6 -26.6 0 0 554.81 229.65" stroke="#666" stroke-width="0.4" fill="none" />
<path d="M559.46 235.36 A1.6 3.6 -26.6 0 0 556.23 228.93" stroke="#666" stroke-width="0.4" fill="none" />
<path d="M560.88 234.64 A1.6 3.6 -26.6 0 0 557.65 228.2" stroke="#666" stroke-width="0.4" fill="none" />
<path d="M562.3 233.91 A1.6 3.6 -26.6 0 0 559.08 227.47" stroke="#666" stroke-width="0.4" fill="none" />
<path d="M563.72 233.18 A1.6 3.6 -26.6 0 0 560.5 226.74" stroke="#666" stroke-width="0.4" fill="none" />
<path d="M565.15 232.45 A1.6 3.6 -26.6 0 0 561.92 226.01" stroke="#666" stroke-width="0.4" fill="none" />
<path d="M566.57 231.72 A1.6 3.6 -26.6 0 0 563.34 225.29" stroke="#666" stroke-width="0.4" fill="none" />
<path d="M567.99 231 A1.6 3.6 -26.6 0 0 564.77 224.56" stroke="#666" stroke-width="0.4" fill="none" />
<path d="M569.41 230.27 A1.6 3.6 -26.6 0 0 566.19 223.83" stroke="#666" stroke-width="0.4" fill="none" />
<path d="M570.83 229.54 A1.6 3.6 -26.6 0 0 567.61 223.1" stroke="#666" stroke-width="0.4" fill="none" />
<path d="M572.26 228.81 A1.6 3.6 -26.6 0 0 569.03 222.38" stroke="#666" stroke-width="0.4" fill="none" />
<path d="M573.68 228.09 A1.6 3.6 -26.6 0 0 570.45 221.65" stroke="#666" stroke-width="0.4" fill="none" />
<path d="M575.1 227.36 A1.6 3.6 -26.6 0 0 571.88 220.92" stroke="#666" stroke-width="0.4" fill="none" />
<path d="M576.52 226.63 A1.6 3.6 -26.6 0 0 573.3 220.19" stroke="#666" stroke-width="0.4" fill="none" />
<path d="M577.95 225.9 A1.6 3.6 -26.6 0 0 574.72 219.46" stroke="#666" stroke-width="0.4" fill="none" />
<path d="M579.37 225.17 A1.6 3.6 -26.6 0 0 576.14 218.74" stroke="#666" stroke-width="0.4" fill="none" />
<path d="M580.79 224.45 A1.6 3.6 -26.6 0 0 577.57 218.01" stroke="#666" stroke-width="0.4" fill="none" />
<path d="M582.21 223.72 A1.6 3.6 -26.6 0 0 578.99 217.28" stroke="#666" stroke-width="0.4" fill="none" />
<ellipse cx="555" cy="233.6" rx="1.6" ry="3.6" transform="rotate(-26.6 555 233.6)" stroke-width="1.0" fill="#888" />
<path d="M591.4 203.4 C592.5 202.67 595.61 200.5 598 199 C600.39 197.5 603.92 195.18 605.75 194.4 C607.58 193.62 608.01 194.05 609 194.3 C609.99 194.55 610.78 195.07 611.7 195.9 C612.62 196.73 613.75 198.13 614.5 199.3 C615.25 200.47 615.78 201.87 616.2 202.9 C616.62 203.93 616.92 204.68 617 205.5 C617.08 206.32 617.03 207.05 616.7 207.8 C616.37 208.55 615.67 209.33 615 210 C614.33 210.67 614.4 210.76 612.7 211.8 C611 212.84 606.78 215.15 604.8 216.25 C602.82 217.35 601.47 218.04 600.8 218.4" stroke-width="0.8" fill="#fff" />
<path d="M592.43 222.4 L600.53 218.1 A6.19 8.6 -27.96 0 0 592.47 202.9 L584.37 207.2" stroke-width="0.8" fill="#fff" />
<ellipse cx="588.4" cy="214.8" rx="6.19" ry="8.6" transform="rotate(-27.96 588.4 214.8)" stroke-width="0.8" fill="#fff" />
<path d="M591.4 203.4 C592 203.5 593.93 203.52 595 204 C596.07 204.48 596.92 205.38 597.8 206.3 C598.68 207.22 599.63 208.42 600.3 209.5 C600.97 210.58 601.43 211.8 601.8 212.8 C602.17 213.8 602.42 214.63 602.5 215.5 C602.58 216.37 602.33 217.58 602.3 218" stroke-width="0.8" fill="none" />
<line x1="594.8" y1="201.4" x2="607.7" y2="194.9" stroke-width="0.6" />
<line x1="598.8" y1="204.3" x2="611.2" y2="197.4" stroke-width="0.6" />
<line x1="601.5" y1="208.5" x2="615.7" y2="201.4" stroke-width="0.6" />
<line x1="602.4" y1="214.5" x2="616.2" y2="207.5" stroke-width="0.6" />
<ellipse cx="588.4" cy="214.8" rx="6.2" ry="8.6" transform="rotate(-28 588.4 214.8)" stroke-width="0.9" fill="#fff" />
<ellipse cx="588.7" cy="214.6" rx="5.2" ry="7.2" transform="rotate(-28 588.7 214.6)" stroke-width="0.6" fill="none" />
<ellipse cx="589" cy="214.4" rx="4.3" ry="5.9" transform="rotate(-28 589 214.4)" stroke-width="0.9" fill="none" />
<line x1="587.3" y1="215.6" x2="590.3" y2="214" stroke-width="0.5" />
<path d="M432.7 303.7 L440.51 296.93 L527.81 246.99" stroke-width="0.8" fill="none" />
<path d="M432.7 303.7 L442.49 300.4 L529.79 250.47" stroke-width="0.8" fill="none" />
<line x1="440.51" y1="296.93" x2="442.49" y2="300.4" stroke-width="0.5" />
<line x1="488.61" y1="269.42" x2="490.59" y2="272.89" stroke-width="0.6" />
<path d="M530.19 251.16 L537.59 246.93 A1.12 2.8 -29.77 0 0 534.81 242.07 L527.41 246.3" stroke-width="0.8" fill="#fff" />
<ellipse cx="528.8" cy="248.73" rx="1.12" ry="2.8" transform="rotate(-29.77 528.8 248.73)" stroke-width="0.8" fill="#fff" />
<path d="M537.19 246.23 L547.49 240.34 A0.8 2 -29.77 0 0 545.51 236.87 L535.21 242.76" stroke-width="0.7" fill="#fff" />
<path d="M539.49 244.92 A0.8 2 -29.8 0 0 537.51 241.45" stroke-width="0.5" fill="none" />
<path d="M542.49 243.2 A0.8 2 -29.8 0 0 540.51 239.73" stroke-width="0.5" fill="none" />
<path d="M545.51 236.87 L548.45 236.22 L550.8 236.15 L549.55 238.13 L547.49 240.34" stroke-width="0.7" fill="#ddd" />
<path d="M65.3 494.53 L79.3 486.83 A15.5 24.5 -28 0 0 56.3 443.57 L42.3 451.27" stroke-width="0.8" fill="#fff" />
<line x1="52.49" y1="446.11" x2="58.79" y2="442.65" stroke-width="0.6" />
<line x1="59.22" y1="446.53" x2="65.52" y2="443.07" stroke-width="0.6" />
<line x1="66.3" y1="450.44" x2="72.6" y2="446.98" stroke-width="0.6" />
<line x1="72.63" y1="457.24" x2="78.93" y2="453.77" stroke-width="0.6" />
<line x1="76.75" y1="464.7" x2="83.05" y2="461.24" stroke-width="0.6" />
<line x1="78.91" y1="471.97" x2="85.21" y2="468.51" stroke-width="0.6" />
<path d="M46.34 449.45 L47.55 448.45 L48.89 447.66 L50.33 447.08 L51.87 446.73 L53.5 446.61 L55.19 446.72 L56.93 447.05 L58.7 447.61 L60.49 448.38 L62.27 449.37 L64.03 450.55 L65.76 451.92 L67.42 453.47 L69.01 455.18 L70.51 457.03 L71.91 459.01 L73.19 461.09 L74.34 463.25 L75.35 465.47 L76.21 467.74 L76.9 470.02 L77.43 472.29 L77.78 474.54 L77.96 476.73 L77.95 478.86 L77.77 480.88 L77.42 482.8 L76.89 484.58 L76.19 486.21" stroke-width="1.6" fill="none" stroke-dasharray="0.6 1.6" stroke="#444"/>
<ellipse cx="53.8" cy="472.9" rx="15.5" ry="24.5" transform="rotate(-28 53.8 472.9)" stroke-width="0.9" fill="#fff" />
<ellipse cx="54.4" cy="472.6" rx="13.6" ry="21.8" transform="rotate(-28 54.4 472.6)" stroke-width="0.8" fill="none" />
<ellipse cx="55.1" cy="472.4" rx="12.3" ry="19.8" transform="rotate(-28 55.1 472.4)" stroke-width="0.6" fill="none" />
<ellipse cx="56" cy="471.9" rx="11" ry="18" transform="rotate(-28 56 471.9)" stroke-width="0.8" fill="none" />
<path d="M68.02 469.64 A10.5 17.5 -28 0 1 53.59 483.59" stroke-width="0.6" fill="none" />
<path d="M93.5 428.5 C92.92 429.42 91.03 432.08 90 434 C88.97 435.92 87.83 438.5 87.3 440 C86.77 441.5 86.88 442.5 86.8 443" stroke-width="0.8" fill="none" />
<path d="M90.5 449.5 C90.92 450.42 91.83 453.2 93 455 C94.17 456.8 95.83 458.87 97.5 460.3 C99.17 461.73 101.25 462.88 103 463.6 C104.75 464.32 107.17 464.43 108 464.6" stroke-width="0.8" fill="none" />
<path d="M92.64 430.39 A14 21.5 -28 1 1 115.03 464.05" stroke-width="1.5" fill="none" />
<path d="M91.08 430.57 A14 21.5 -28 1 1 113.82 464.77" stroke-width="0.8" fill="none" />
<path d="M92.5 438.5 C93.75 439 97.08 440.33 100 441.5 C102.92 442.67 106.75 444.67 110 445.5 C113.25 446.33 117.92 446.33 119.5 446.5" stroke-width="0.55" fill="none" stroke-dasharray="5 1.5 1 1.5"/>
<path d="M86.8 441.5 L79.3 443.3 L78.8 447.2 L81 449.6 L88 448.6 L92.5 449.5" stroke-width="0.8" fill="#fff" />
<path d="M79.3 443.3 L82 445.3 L88.6 444.4" stroke-width="0.6" fill="none" />
<line x1="82" y1="445.3" x2="81" y2="449.6" stroke-width="0.6" />
<line x1="84.5" y1="445" x2="84" y2="449.2" stroke-width="0.5" />
<path d="M92 444 Q96 440 101 442.5 Q105.5 445 105.5 449.5 Q103 453.5 98 452.5 Q93.5 451 92 444 Z" stroke-width="0.7" fill="none" />
<ellipse cx="100.6" cy="447.3" rx="2.9" ry="3.1" transform="rotate(0 100.6 447.3)" stroke-width="0.8" fill="#bbb" />
<ellipse cx="100.6" cy="447.3" rx="1.5" ry="1.6" transform="rotate(0 100.6 447.3)" stroke-width="0.6" fill="#666" />
<path d="M104.5 455.3 L106.5 454 L113.5 456 Q116 453.5 114.3 451.3 L118 453.5 Q118.5 458.5 113.8 460 L105 458.8 Z" stroke-width="0.8" fill="#fff" />
<line x1="106.5" y1="454" x2="106.6" y2="458.8" stroke-width="0.5" />
<path d="M143.83 431.49 L152.43 426.89 A2.7 6 -28.14 0 0 146.77 416.31 L138.17 420.91" stroke-width="0.8" fill="#fff" />
<ellipse cx="141" cy="426.2" rx="2.7" ry="6" transform="rotate(-28.14 141 426.2)" stroke-width="0.8" fill="#fff" />
<path d="M145.97 430.35 A2.7 6 -28 0 0 140.33 419.75" stroke-width="0.5" fill="none" />
<path d="M147.86 429.34 A2.7 6 -28 0 0 142.23 418.74" stroke-width="0.5" fill="none" />
<path d="M149.75 428.32 A2.7 6 -28 0 0 144.12 417.73" stroke-width="0.5" fill="none" />
<path d="M138.56 438.26 L144.86 434.96 A5.45 10.9 -27.65 0 0 134.74 415.64 L128.44 418.94" stroke-width="0.8" fill="#fff" />
<ellipse cx="133.5" cy="428.6" rx="5.45" ry="10.9" transform="rotate(-27.65 133.5 428.6)" stroke-width="0.8" fill="#fff" />
<line x1="138.5" y1="416.3" x2="144.3" y2="420.8" stroke-width="0.5" />
<line x1="143.6" y1="436.5" x2="145.6" y2="431.5" stroke-width="0.5" />
<ellipse cx="130.9" cy="429.6" rx="8.4" ry="13.4" transform="rotate(-28 130.9 429.6)" stroke-width="1.1" fill="#fff" />
<ellipse cx="131.5" cy="429.3" rx="7" ry="11.3" transform="rotate(-28 131.5 429.3)" stroke-width="0.7" fill="none" />
<ellipse cx="132" cy="429" rx="5.6" ry="9.2" transform="rotate(-28 132 429)" stroke-width="1.1" fill="none" stroke-dasharray="1.5 1.2"/>
<path d="M129.52 435.79 L134.02 433.39 A2.15 4.3 -28.07 0 0 129.98 425.81 L125.48 428.21" stroke-width="0.8" fill="#fff" />
<ellipse cx="127.5" cy="432" rx="2.15" ry="4.3" transform="rotate(-28.07 127.5 432)" stroke-width="0.8" fill="#fff" />
<path d="M132.02 434.5 A2.1 4.3 -28 0 0 127.98 426.9" stroke-width="0.5" fill="none" />
<path d="M125.69 435.08 L128.89 433.38 A0.95 1.9 -27.98 0 0 127.11 430.02 L123.91 431.72" stroke-width="0.8" fill="#fff" />
<ellipse cx="124.8" cy="433.4" rx="0.95" ry="1.9" transform="rotate(-27.98 124.8 433.4)" stroke-width="0.8" fill="#fff" />
<path d="M151.7 400.6 C152 400.1 152.72 399.3 153.3 399.2 C153.88 399.1 154.45 400.52 155.2 400 C155.95 399.48 156.72 397.4 157.8 396.1 C158.88 394.8 160.5 393.03 161.7 392.2 C162.9 391.37 163.8 391.1 165 391.1 C166.2 391.1 167.6 391.65 168.9 392.2 C170.2 392.75 171.6 393.47 172.8 394.4 C174 395.33 175 396.32 176.1 397.8 C177.2 399.28 178.28 401.37 179.4 403.3 C180.52 405.23 181.68 407.73 182.8 409.4 C183.92 411.07 185.45 412.27 186.1 413.3 C186.75 414.33 187.02 414.88 186.7 415.6 C186.38 416.32 184.95 417.2 184.2 417.6 C183.45 418 182.62 417.5 182.2 418 C181.78 418.5 182.53 419.53 181.7 420.6 C180.87 421.67 178.68 423.3 177.2 424.4 C175.72 425.5 173.72 426.45 172.8 427.2 C171.88 427.95 172.35 428.53 171.7 428.9 C171.05 429.27 169.73 429.68 168.9 429.4 C168.07 429.12 167.63 428.4 166.7 427.2 C165.77 426 164.52 424.13 163.3 422.2 C162.08 420.27 160.6 417.82 159.4 415.6 C158.2 413.38 157.12 410.85 156.1 408.9 C155.08 406.95 154.07 405.02 153.3 403.9 C152.53 402.78 151.77 402.75 151.5 402.2 C151.23 401.65 151.4 401.1 151.7 400.6 Z" stroke-width="0.8" fill="#fff" />
<path d="M159.5 393.3 C160.17 392.75 162.25 390.67 163.5 390 C164.75 389.33 165.67 389.22 167 389.3 C168.33 389.38 169.92 389.72 171.5 390.5 C173.08 391.28 175 392.5 176.5 394 C178 395.5 179.17 397.42 180.5 399.5 C181.83 401.58 183.25 404.5 184.5 406.5 C185.75 408.5 187.3 410.17 188 411.5 C188.7 412.83 188.92 413.7 188.7 414.5 C188.48 415.3 187.03 416 186.7 416.3" stroke-width="0.6" fill="none" />
<ellipse cx="168.6" cy="408.5" rx="8.6" ry="12.9" transform="rotate(-28 168.6 408.5)" stroke-width="1.4" fill="none" />
<ellipse cx="169.4" cy="408.1" rx="7.3" ry="11.2" transform="rotate(-28 169.4 408.1)" stroke-width="0.6" fill="none" />
<path d="M167.03 391.9 L174.83 388.7 A0.7 1.4 -22.31 0 0 173.77 386.1 L165.97 389.3" stroke-width="0.7" fill="#fff" />
<ellipse cx="166.5" cy="390.6" rx="0.7" ry="1.4" transform="rotate(-22.31 166.5 390.6)" stroke-width="0.7" fill="#fff" />
<ellipse cx="165.4" cy="392.2" rx="1.3" ry="1.7" transform="rotate(0 165.4 392.2)" stroke-width="0.6" fill="none" />
<ellipse cx="184" cy="414.6" rx="0.9" ry="1.1" transform="rotate(0 184 414.6)" stroke-width="0.5" fill="none" />
<ellipse cx="170" cy="426.8" rx="0.9" ry="1.1" transform="rotate(0 170 426.8)" stroke-width="0.5" fill="none" />
<ellipse cx="154.3" cy="401.8" rx="0.8" ry="1" transform="rotate(0 154.3 401.8)" stroke-width="0.5" fill="none" />
<path d="M203.53 380.82 L212.33 376.32 A0.8 1.6 -27.08 0 0 210.87 373.48 L202.07 377.98" stroke-width="0.8" fill="#fff" />
<ellipse cx="202.8" cy="379.4" rx="0.8" ry="1.6" transform="rotate(-27.08 202.8 379.4)" stroke-width="0.8" fill="#fff" />
<ellipse cx="201.2" cy="380.2" rx="2.2" ry="3.5" transform="rotate(-27 201.2 380.2)" stroke-width="0.8" fill="#fff" />
<ellipse cx="200.9" cy="380.4" rx="1.1" ry="1.8" transform="rotate(-27 200.9 380.4)" stroke-width="0.6" fill="none" />
<path d="M193.51 403.03 L202.41 398.63 A0.8 1.6 -26.31 0 0 200.99 395.77 L192.09 400.17" stroke-width="0.8" fill="#fff" />
<ellipse cx="192.8" cy="401.6" rx="0.8" ry="1.6" transform="rotate(-26.31 192.8 401.6)" stroke-width="0.8" fill="#fff" />
<ellipse cx="191.2" cy="402.4" rx="2.2" ry="3.5" transform="rotate(-27 191.2 402.4)" stroke-width="0.8" fill="#fff" />
<ellipse cx="190.9" cy="402.6" rx="1.1" ry="1.8" transform="rotate(-27 190.9 402.6)" stroke-width="0.6" fill="none" />
<path d="M245.25 390.52 L254.55 386.82 A15.3 22.9 -28 0 0 233.05 346.38 L223.75 350.08" stroke-width="0.9" fill="#fff" />
<path d="M223.19 351.02 A15.3 22.9 -28 0 1 250.15 387.2" stroke-width="1.0" fill="none" stroke="#444"/>
<path d="M224.68 350.43 A15.3 22.9 -28 0 1 251.63 386.6" stroke-width="1.0" fill="none" stroke="#444"/>
<path d="M226.16 349.83 A15.3 22.9 -28 0 1 253.12 386.01" stroke-width="1.0" fill="none" stroke="#444"/>
<path d="M227.65 349.24 A15.3 22.9 -28 0 1 254.61 385.42" stroke-width="1.0" fill="none" stroke="#444"/>
<path d="M229.14 348.65 A15.3 22.9 -28 0 1 256.1 384.83" stroke-width="1.0" fill="none" stroke="#444"/>
<ellipse cx="234.5" cy="370.3" rx="15.3" ry="22.9" transform="rotate(-28 234.5 370.3)" stroke-width="0.9" fill="#fff" />
<ellipse cx="235" cy="370.1" rx="13.5" ry="20.3" transform="rotate(-28 235 370.1)" stroke-width="0.7" fill="none" />
<ellipse cx="235.7" cy="369.6" rx="11.8" ry="17.8" transform="rotate(-28 235.7 369.6)" stroke-width="0.6" fill="none" />
<ellipse cx="235.6" cy="368.6" rx="8.2" ry="12" transform="rotate(-28 235.6 368.6)" stroke-width="0.9" fill="#fff" />
<ellipse cx="236" cy="368.4" rx="6.8" ry="10.2" transform="rotate(-28 236 368.4)" stroke-width="0.7" fill="none" />
<ellipse cx="236.3" cy="368.2" rx="5.2" ry="8" transform="rotate(-28 236.3 368.2)" stroke-width="0.9" fill="none" />
<ellipse cx="236.6" cy="368" rx="3.3" ry="5.2" transform="rotate(-28 236.6 368)" stroke-width="0.6" fill="none" />
<line x1="220.5" y1="364.3" x2="226.5" y2="362.1" stroke-width="0.6" />
<line x1="221.5" y1="367.6" x2="227" y2="365.6" stroke-width="0.6" />
<line x1="239" y1="386.8" x2="244" y2="382.8" stroke-width="0.6" />
<line x1="241.5" y1="388.3" x2="246" y2="384.8" stroke-width="0.6" />
<line x1="226" y1="351.3" x2="229.5" y2="355.8" stroke-width="0.6" />
<ellipse cx="272.4" cy="350.7" rx="14.5" ry="21.3" transform="rotate(-28 272.4 350.7)" stroke-width="0.9" fill="#fff" />
<ellipse cx="272.9" cy="350.5" rx="13.3" ry="19.8" transform="rotate(-28 272.9 350.5)" stroke-width="0.6" fill="none" />
<ellipse cx="271" cy="349.7" rx="5.2" ry="8.2" transform="rotate(-28 271 349.7)" stroke-width="0.8" fill="none" />
<ellipse cx="271.6" cy="349.4" rx="4.2" ry="6.8" transform="rotate(-28 271.6 349.4)" stroke-width="0.5" fill="none" />
<path d="M259.5 351.5 C258.88 350.17 258.63 347 258.8 345 C258.97 343 259.55 340.92 260.5 339.5 C261.45 338.08 263 337.03 264.5 336.5 C266 335.97 268.17 336 269.5 336.3 C270.83 336.6 272.17 337.63 272.5 338.3 C272.83 338.97 272.42 339.92 271.5 340.3 C270.58 340.68 268.2 340.15 267 340.6 C265.8 341.05 264.92 341.85 264.3 343 C263.68 344.15 263.27 346.08 263.3 347.5 C263.33 348.92 264.63 350.58 264.5 351.5 C264.37 352.42 263.33 353 262.5 353 C261.67 353 260.12 352.83 259.5 351.5 Z" stroke-width="0.7" fill="none" />
<path d="M282.5 351.3 C282.97 352.47 283.68 354.72 283.6 356.5 C283.52 358.28 282.93 360.48 282 362 C281.07 363.52 279.5 365 278 365.6 C276.5 366.2 274.17 365.93 273 365.6 C271.83 365.27 271.17 364.27 271 363.6 C270.83 362.93 271.12 361.98 272 361.6 C272.88 361.22 275.13 361.82 276.3 361.3 C277.47 360.78 278.45 359.72 279 358.5 C279.55 357.28 279.6 355.33 279.6 354 C279.6 352.67 278.8 351.25 279 350.5 C279.2 349.75 280.22 349.37 280.8 349.5 C281.38 349.63 282.03 350.13 282.5 351.3 Z" stroke-width="0.7" fill="none" />
<ellipse cx="275.6" cy="338.8" rx="1.1" ry="1.2" transform="rotate(0 275.6 338.8)" stroke-width="0.6" fill="none" />
<ellipse cx="265" cy="359.4" rx="1.1" ry="1.2" transform="rotate(0 265 359.4)" stroke-width="0.6" fill="none" />
<path d="M111.25 382 L100 375.75 L39.5 411.25 L49.5 417" stroke-width="0.7" fill="none" />
<path d="M270 290 L262.5 285 L145 351.25 L153.75 357.5" stroke-width="0.7" fill="none" />
<path d="M482 43 L472.5 37.5 L394.5 81.25 L404.5 87" stroke-width="0.7" fill="none" />
<path d="M520.5 60.5 L511.25 55 L466.25 80 L475 85.5" stroke-width="0.7" fill="none" />
<path d="M545.5 160 L536.25 153.75 L386.25 238.75 L396.25 245" stroke-width="0.7" fill="none" />
<path d="M455.5 305 L465.5 299.5 L552.5 335 L542.5 340.5" stroke-width="0.7" fill="none" />
<path d="M337.5 405 L348.75 411.25 L303.75 436.25 L293.75 430" stroke-width="0.7" fill="none" />
<path d="M256.7 222 L252.7 241.6 L336.3 255 L332.5 272.5" stroke-width="0.6" fill="none" stroke-dasharray="7 1.8 1.2 1.8"/>
<path d="M400.5 187 L371.3 205 L380 267.5" stroke-width="0.6" fill="none" stroke-dasharray="7 1.8 1.2 1.8"/>
<path d="M549 193.5 L563.8 186.3 L565.3 207.3 L423.8 286.2 L425 307.5 L432.7 303.7" stroke-width="0.6" fill="none" stroke-dasharray="7 1.8 1.2 1.8"/>
<path d="M463 140 L476 132.5" stroke-width="0.6" fill="none" stroke-dasharray="7 1.8 1.2 1.8"/>
<path d="M359.5 293 L446 328.5" stroke-width="0.6" fill="none" stroke-dasharray="7 1.8 1.2 1.8"/>
<path d="M457 333.5 L500 351.3" stroke-width="0.6" fill="none" stroke-dasharray="7 1.8 1.2 1.8"/>
<path d="M344.5 316 L347.5 395 L334 402.5" stroke-width="0.6" fill="none" stroke-dasharray="7 1.8 1.2 1.8"/>
<path d="M303 420.5 L306 419" stroke-width="0.6" fill="none" stroke-dasharray="7 1.8 1.2 1.8"/>
<path d="M390 277.5 L404 271.5" stroke-width="0.6" fill="none" stroke-dasharray="7 1.8 1.2 1.8"/>
<path d="M437 258.5 L441 256.5" stroke-width="0.6" fill="none" stroke-dasharray="7 1.8 1.2 1.8"/>
<path d="M404.5 402.5 L405.3 407" stroke-width="0.6" fill="none" stroke-dasharray="7 1.8 1.2 1.8"/>
<path d="M181 402.6 L300 338.5" stroke-width="0.6" fill="none" stroke-dasharray="7 1.8 1.2 1.8"/>
<path d="M212.5 374.5 L296 332.3" stroke-width="0.6" fill="none" stroke-dasharray="7 1.8 1.2 1.8"/>
<path d="M202.5 396.6 L230 381" stroke-width="0.6" fill="none" stroke-dasharray="7 1.8 1.2 1.8"/>
<path d="M151 419 L160 414" stroke-width="0.6" fill="none" stroke-dasharray="7 1.8 1.2 1.8"/>
<path d="M75 464 L90 457" stroke-width="0.6" fill="none" stroke-dasharray="7 1.8 1.2 1.8"/>
<path d="M113 441 L124 435" stroke-width="0.6" fill="none" stroke-dasharray="7 1.8 1.2 1.8"/>
<path d="M143 425 L153 419.5" stroke-width="0.6" fill="none" stroke-dasharray="7 1.8 1.2 1.8"/>
<line x1="58.75" y1="381.25" x2="65.52" y2="387.72" stroke-width="0.7" />
<polygon points="70,392 64.76,388.51 66.28,386.92" fill="#111" stroke="none"/>
<line x1="63.75" y1="425" x2="63.75" y2="433.8" stroke-width="0.7" />
<polygon points="63.75,440 62.65,433.8 64.85,433.8" fill="#111" stroke="none"/>
<line x1="98.75" y1="404.25" x2="98.75" y2="417.55" stroke-width="0.7" />
<polygon points="98.75,423.75 97.65,417.55 99.85,417.55" fill="#111" stroke="none"/>
<line x1="130" y1="389.25" x2="130" y2="409.3" stroke-width="0.7" />
<polygon points="130,415.5 128.9,409.3 131.1,409.3" fill="#111" stroke="none"/>
<line x1="193.75" y1="307.5" x2="200.26" y2="313" stroke-width="0.7" />
<polygon points="205,317 199.55,313.84 200.97,312.16" fill="#111" stroke="none"/>
<line x1="167.5" y1="365.5" x2="167.5" y2="382.55" stroke-width="0.7" />
<polygon points="167.5,388.75 166.4,382.55 168.6,382.55" fill="#111" stroke="none"/>
<line x1="204.5" y1="344.25" x2="204.5" y2="368.8" stroke-width="0.7" />
<polygon points="204.5,375 203.4,368.8 205.6,368.8" fill="#111" stroke="none"/>
<line x1="232" y1="328.25" x2="232" y2="341.8" stroke-width="0.7" />
<polygon points="232,348 230.9,341.8 233.1,341.8" fill="#111" stroke="none"/>
<line x1="264.25" y1="310.5" x2="264.25" y2="325.05" stroke-width="0.7" />
<polygon points="264.25,331.25 263.15,325.05 265.35,325.05" fill="#111" stroke="none"/>
<line x1="430.5" y1="48.75" x2="435.13" y2="52.41" stroke-width="0.7" />
<polygon points="440,56.25 434.45,53.27 435.82,51.54" fill="#111" stroke="none"/>
<line x1="425" y1="118" x2="425" y2="150.05" stroke-width="0.7" />
<polygon points="425,156.25 423.9,150.05 426.1,150.05" fill="#111" stroke="none"/>
<line x1="454.25" y1="105.5" x2="454.25" y2="130.05" stroke-width="0.7" />
<polygon points="454.25,136.25 453.15,130.05 455.35,130.05" fill="#111" stroke="none"/>
<line x1="477.5" y1="59.5" x2="482.95" y2="63.4" stroke-width="0.7" />
<polygon points="488,67 482.32,64.29 483.59,62.5" fill="#111" stroke="none"/>
<line x1="488.75" y1="92" x2="488.75" y2="100.05" stroke-width="0.7" />
<polygon points="488.75,106.25 487.65,100.05 489.85,100.05" fill="#111" stroke="none"/>
<line x1="509.25" y1="78.75" x2="509.25" y2="95.05" stroke-width="0.7" />
<polygon points="509.25,101.25 508.15,95.05 510.35,95.05" fill="#111" stroke="none"/>
<line x1="458.75" y1="183" x2="462.28" y2="187.24" stroke-width="0.7" />
<polygon points="466.25,192 461.44,187.94 463.13,186.53" fill="#111" stroke="none"/>
<line x1="414.5" y1="248" x2="414.5" y2="253.8" stroke-width="0.7" />
<polygon points="414.5,260 413.4,253.8 415.6,253.8" fill="#111" stroke="none"/>
<line x1="460" y1="222" x2="460" y2="232.55" stroke-width="0.7" />
<polygon points="460,238.75 458.9,232.55 461.1,232.55" fill="#111" stroke="none"/>
<line x1="500.75" y1="198" x2="500.75" y2="207.55" stroke-width="0.7" />
<polygon points="500.75,213.75 499.65,207.55 501.85,207.55" fill="#111" stroke="none"/>
<line x1="532.5" y1="180.5" x2="532.5" y2="190.05" stroke-width="0.7" />
<polygon points="532.5,196.25 531.4,190.05 533.6,190.05" fill="#111" stroke="none"/>
<line x1="570.75" y1="243" x2="570.75" y2="236.2" stroke-width="0.7" />
<polygon points="570.75,230 571.85,236.2 569.65,236.2" fill="#111" stroke="none"/>
<line x1="605.75" y1="228" x2="605.75" y2="224.95" stroke-width="0.7" />
<polygon points="605.75,218.75 606.85,224.95 604.65,224.95" fill="#111" stroke="none"/>
<line x1="520" y1="310" x2="516.09" y2="313.13" stroke-width="0.7" />
<polygon points="511.25,317 515.4,312.27 516.78,313.99" fill="#111" stroke="none"/>
<line x1="459.5" y1="322" x2="458.23" y2="323.21" stroke-width="0.7" />
<polygon points="453.75,327.5 457.47,322.42 458.99,324.01" fill="#111" stroke="none"/>
<line x1="487.5" y1="332" x2="485.46" y2="334.2" stroke-width="0.7" />
<polygon points="481.25,338.75 484.66,333.45 486.27,334.95" fill="#111" stroke="none"/>
<line x1="522.5" y1="346.25" x2="521.09" y2="347.38" stroke-width="0.7" />
<polygon points="516.25,351.25 520.4,346.52 521.78,348.24" fill="#111" stroke="none"/>
<line x1="504.5" y1="397.5" x2="501.22" y2="396.13" stroke-width="0.7" />
<polygon points="495.5,393.75 501.65,395.12 500.8,397.15" fill="#111" stroke="none"/>
<line x1="390" y1="450" x2="401.15" y2="442.28" stroke-width="0.7" />
<polygon points="406.25,438.75 401.78,443.18 400.53,441.37" fill="#111" stroke="none"/>
<line x1="341.25" y1="432.5" x2="334.89" y2="427.56" stroke-width="0.7" />
<polygon points="330,423.75 335.57,426.69 334.22,428.42" fill="#111" stroke="none"/>
<line x1="36.75" y1="253.75" x2="44.52" y2="251.63" stroke-width="0.7" />
<polygon points="50.5,250 44.81,252.69 44.23,250.57" fill="#111" stroke="none"/>
<line x1="81.25" y1="291.25" x2="84.51" y2="290.37" stroke-width="0.7" />
<polygon points="90.5,288.75 84.8,291.43 84.23,289.31" fill="#111" stroke="none"/>
<line x1="81.25" y1="243.5" x2="85.44" y2="241.93" stroke-width="0.7" />
<polygon points="91.25,239.75 85.83,242.96 85.06,240.9" fill="#111" stroke="none"/>
<line x1="81.25" y1="186" x2="84.49" y2="184.34" stroke-width="0.7" />
<polygon points="90,181.5 84.99,185.31 83.98,183.36" fill="#111" stroke="none"/>
<line x1="213.75" y1="62.5" x2="239.18" y2="71.86" stroke-width="0.7" />
<polygon points="245,74 238.8,72.89 239.56,70.83" fill="#111" stroke="none"/>
<circle cx="532.75" cy="275" r="18" fill="#6fcb3a" stroke="none"/>
<line x1="532.75" y1="264" x2="532.75" y2="258" stroke-width="0.7" />
<polygon points="532.75,251.8 533.85,258 531.65,258" fill="#111" stroke="none"/>
<circle cx="532.75" cy="275" r="10.5" fill="none" stroke-width="0.8"/>
<text transform="translate(532.75 278.8) scale(1 1)" text-anchor="middle" class="t">20</text>
<circle cx="53.25" cy="372.5" r="10.5" fill="#fff" stroke-width="0.8"/>
<text transform="translate(53.25 376.3) scale(1 1)" text-anchor="middle" class="t">1</text>
<circle cx="63.75" cy="413.75" r="10.5" fill="#fff" stroke-width="0.8"/>
<text transform="translate(63.75 417.55) scale(1 1)" text-anchor="middle" class="t">2</text>
<circle cx="98.75" cy="393" r="10.5" fill="#fff" stroke-width="0.8"/>
<text transform="translate(98.75 396.8) scale(1 1)" text-anchor="middle" class="t">3</text>
<circle cx="130" cy="378" r="10.5" fill="#fff" stroke-width="0.8"/>
<text transform="translate(130 381.8) scale(1 1)" text-anchor="middle" class="t">4</text>
<circle cx="187.5" cy="299.25" r="10.5" fill="#fff" stroke-width="0.8"/>
<text transform="translate(187.5 303.05) scale(1 1)" text-anchor="middle" class="t">5</text>
<circle cx="167.5" cy="354.25" r="10.5" fill="#fff" stroke-width="0.8"/>
<text transform="translate(167.5 358.05) scale(1 1)" text-anchor="middle" class="t">6</text>
<circle cx="204.5" cy="333" r="10.5" fill="#fff" stroke-width="0.8"/>
<text transform="translate(204.5 336.8) scale(1 1)" text-anchor="middle" class="t">7</text>
<circle cx="232" cy="317" r="10.5" fill="#fff" stroke-width="0.8"/>
<text transform="translate(232 320.8) scale(1 1)" text-anchor="middle" class="t">8</text>
<circle cx="264.25" cy="299.25" r="10.5" fill="#fff" stroke-width="0.8"/>
<text transform="translate(264.25 303.05) scale(1 1)" text-anchor="middle" class="t">9</text>
<circle cx="425" cy="39.25" r="10.5" fill="#fff" stroke-width="0.8"/>
<text transform="translate(425 43.05) scale(1 1)" text-anchor="middle" class="t">10</text>
<circle cx="425" cy="106.75" r="10.5" fill="#fff" stroke-width="0.8"/>
<text transform="translate(425 110.55) scale(1 1)" text-anchor="middle" class="t">11</text>
<circle cx="454.25" cy="94.25" r="10.5" fill="#fff" stroke-width="0.8"/>
<text transform="translate(454.25 98.05) scale(1 1)" text-anchor="middle" class="t">12</text>
<circle cx="471.25" cy="51.25" r="10.5" fill="#fff" stroke-width="0.8"/>
<text transform="translate(471.25 55.05) scale(1 1)" text-anchor="middle" class="t">13</text>
<circle cx="488.75" cy="80.75" r="10.5" fill="#fff" stroke-width="0.8"/>
<text transform="translate(488.75 84.55) scale(1 1)" text-anchor="middle" class="t">14</text>
<circle cx="509.25" cy="67.5" r="10.5" fill="#fff" stroke-width="0.8"/>
<text transform="translate(509.25 71.3) scale(1 1)" text-anchor="middle" class="t">7</text>
<circle cx="452.5" cy="173.75" r="10.5" fill="#fff" stroke-width="0.8"/>
<text transform="translate(452.5 177.55) scale(1 1)" text-anchor="middle" class="t">15</text>
<circle cx="414.5" cy="236.75" r="10.5" fill="#fff" stroke-width="0.8"/>
<text transform="translate(414.5 240.55) scale(1 1)" text-anchor="middle" class="t">16</text>
<circle cx="460" cy="210.75" r="10.5" fill="#fff" stroke-width="0.8"/>
<text transform="translate(460 214.55) scale(1 1)" text-anchor="middle" class="t">17</text>
<circle cx="500.75" cy="186.5" r="10.5" fill="#fff" stroke-width="0.8"/>
<text transform="translate(500.75 190.3) scale(1 1)" text-anchor="middle" class="t">18</text>
<circle cx="532.5" cy="169.25" r="10.5" fill="#fff" stroke-width="0.8"/>
<text transform="translate(532.5 173.05) scale(1 1)" text-anchor="middle" class="t">19</text>
<circle cx="570.75" cy="254.25" r="10.5" fill="#fff" stroke-width="0.8"/>
<text transform="translate(570.75 258.05) scale(1 1)" text-anchor="middle" class="t">21</text>
<circle cx="605.75" cy="239.25" r="10.5" fill="#fff" stroke-width="0.8"/>
<text transform="translate(605.75 243.05) scale(1 1)" text-anchor="middle" class="t">22</text>
<circle cx="527.5" cy="301.75" r="10.5" fill="#fff" stroke-width="0.8"/>
<text transform="translate(527.5 305.55) scale(1 1)" text-anchor="middle" class="t">23</text>
<circle cx="464.5" cy="312.5" r="10.5" fill="#fff" stroke-width="0.8"/>
<text transform="translate(464.5 316.3) scale(1 1)" text-anchor="middle" class="t">24</text>
<circle cx="493.5" cy="323" r="10.5" fill="#fff" stroke-width="0.8"/>
<text transform="translate(493.5 326.8) scale(1 1)" text-anchor="middle" class="t">25</text>
<circle cx="527.5" cy="337" r="10.5" fill="#fff" stroke-width="0.8"/>
<text transform="translate(527.5 340.8) scale(1 1)" text-anchor="middle" class="t">26</text>
<circle cx="515.5" cy="400.5" r="10.5" fill="#fff" stroke-width="0.8"/>
<text transform="translate(515.5 404.3) scale(1 1)" text-anchor="middle" class="t">27</text>
<circle cx="380.75" cy="455" r="10.5" fill="#fff" stroke-width="0.8"/>
<text transform="translate(380.75 458.8) scale(1 1)" text-anchor="middle" class="t">28</text>
<circle cx="346.25" cy="441.75" r="10.5" fill="#fff" stroke-width="0.8"/>
<text transform="translate(346.25 445.55) scale(1 1)" text-anchor="middle" class="t">29</text>
<circle cx="25.75" cy="256.75" r="10.5" fill="#fff" stroke-width="0.8"/>
<text transform="translate(25.75 260.55) scale(1 1)" text-anchor="middle" class="t">30</text>
<circle cx="71.25" cy="294.25" r="10.5" fill="#fff" stroke-width="0.8"/>
<text transform="translate(71.25 298.05) scale(1 1)" text-anchor="middle" class="t">31</text>
<circle cx="71.25" cy="247.25" r="10.5" fill="#fff" stroke-width="0.8"/>
<text transform="translate(71.25 251.05) scale(1 1)" text-anchor="middle" class="t">32</text>
<circle cx="71.25" cy="192.25" r="10.5" fill="#fff" stroke-width="0.8"/>
<text transform="translate(71.25 196.05) scale(1 1)" text-anchor="middle" class="t">33</text>
<circle cx="204.25" cy="58.25" r="10.5" fill="#fff" stroke-width="0.8"/>
<text transform="translate(204.25 62.05) scale(1 1)" text-anchor="middle" class="t">34</text>
</svg>
</body></html>
